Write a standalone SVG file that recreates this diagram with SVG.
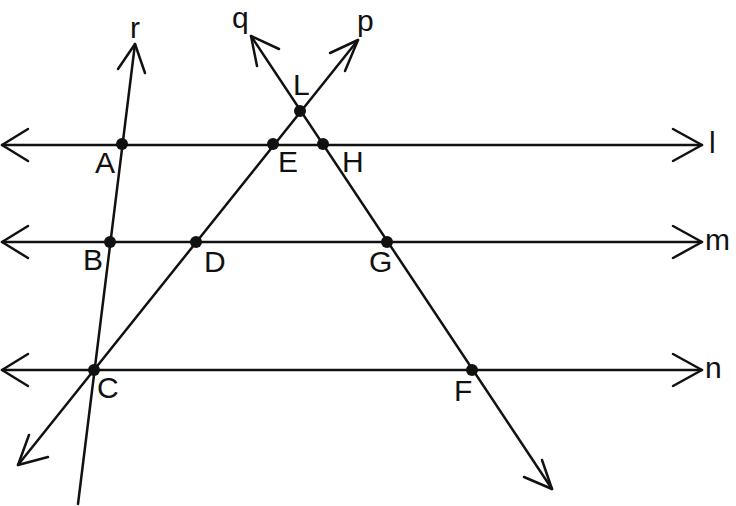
<svg xmlns="http://www.w3.org/2000/svg" width="736" height="506" viewBox="0 0 736 506">
<style>
.ln{stroke:#111;stroke-width:2.5;fill:none;stroke-linecap:round;stroke-linejoin:round}
.dot{fill:#111}
text{font-family:"Liberation Sans",Arial,sans-serif;font-size:30px;fill:#111}
</style>
<rect width="736" height="506" fill="#fff"/>
<g id="connectors">
<g id="line-l"><line class="ln" x1="2" y1="145" x2="702" y2="145"/><polyline class="ln" points="28,129 2,145 28,161"/><polyline class="ln" points="673,129 702,145 673,161"/></g>
<g id="line-m"><line class="ln" x1="2" y1="242" x2="702" y2="242"/><polyline class="ln" points="28,226 2,242 28,258"/><polyline class="ln" points="673,226 702,242 673,258"/></g>
<g id="line-n"><line class="ln" x1="2" y1="370" x2="702" y2="370"/><polyline class="ln" points="28,354 2,370 28,386"/><polyline class="ln" points="673,354 702,370 673,386"/></g>
<g id="line-r"><line class="ln" x1="78" y1="504" x2="135" y2="44"/><polyline class="ln" points="118,69 135,44 145,73"/></g>
<g id="line-p"><line class="ln" x1="18" y1="465" x2="358" y2="40"/><polyline class="ln" points="330,53 358,40 345,71"/><polyline class="ln" points="29,435 18,465 48,457"/></g>
<g id="line-q"><line class="ln" x1="251" y1="36" x2="552" y2="489"/><polyline class="ln" points="279,49 251,36 257,66"/><polyline class="ln" points="524,477 552,489 542,460"/></g>
</g>
<g id="label-r"><text x="130" y="38">r</text></g>
<g id="label-q"><text x="232" y="28">q</text></g>
<g id="label-p"><text x="357" y="31">p</text></g>
<g id="label-l"><text x="709" y="153">l</text></g>
<g id="label-m"><text x="705" y="250">m</text></g>
<g id="label-n"><text x="705" y="378">n</text></g>
<g id="node-L"><circle class="dot" cx="300" cy="111" r="6"/><text x="293" y="95">L</text></g>
<g id="node-A"><circle class="dot" cx="122" cy="144" r="6"/><text x="95" y="173">A</text></g>
<g id="node-E"><circle class="dot" cx="273" cy="144" r="6"/><text x="278" y="172">E</text></g>
<g id="node-H"><circle class="dot" cx="323" cy="144" r="6"/><text x="342" y="172">H</text></g>
<g id="node-B"><circle class="dot" cx="110" cy="242" r="6"/><text x="83" y="270">B</text></g>
<g id="node-D"><circle class="dot" cx="196" cy="242" r="6"/><text x="204" y="272">D</text></g>
<g id="node-G"><circle class="dot" cx="387" cy="242" r="6"/><text x="369" y="272">G</text></g>
<g id="node-C"><circle class="dot" cx="94" cy="370" r="6"/><text x="97" y="398">C</text></g>
<g id="node-F"><circle class="dot" cx="472" cy="370" r="6"/><text x="454" y="401">F</text></g>
</svg>
